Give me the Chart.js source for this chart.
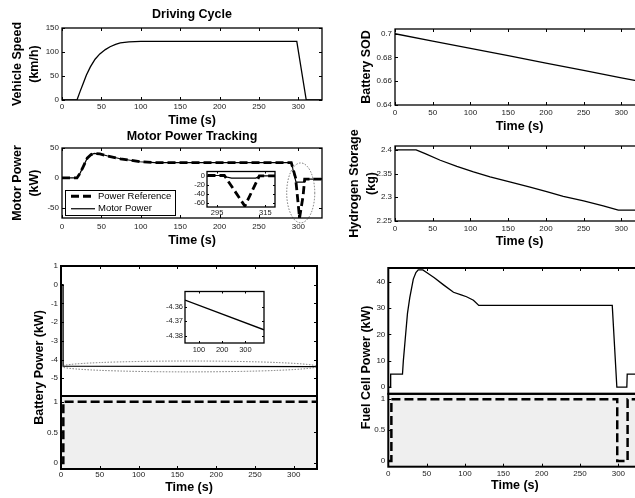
<!DOCTYPE html>
<html>
<head>
<meta charset="utf-8">
<script src="https://cdn.jsdelivr.net/npm/chart.js@4.4.1/dist/chart.umd.min.js"></script>
<style>
  html, body { margin: 0; padding: 0; background: #fff; }
  body { position: relative; width: 635px; height: 498px; overflow: hidden; }
  canvas { position: absolute; }
</style>
</head>
<body>
<canvas id="speedChart" width="330" height="128" style="left:0;top:0"></canvas>
<canvas id="sodChart" width="320" height="134" style="left:330px;top:0"></canvas>
<canvas id="motorChart" width="330" height="126" style="left:0;top:122px"></canvas>
<canvas id="h2Chart" width="320" height="129" style="left:330px;top:120px"></canvas>
<canvas id="batChart" width="330" height="240" style="left:0;top:255px"></canvas>
<canvas id="fcChart" width="320" height="238" style="left:330px;top:255px"></canvas>
<canvas id="motorInset" width="86" height="55" style="left:191px;top:165px"></canvas>
<canvas id="batInset" width="102" height="72" style="left:164px;top:285px"></canvas>
<script>
// ---- data ----
// Driving cycle
const speedTime = [0, 19, 23, 27, 31, 36, 42, 48, 55, 61, 68, 74, 85, 100, 298, 310, 330];
const speedValue = [0, 0, 18, 35, 52, 69, 85, 96, 105, 111, 116, 119, 121, 122, 122, 0, 0];

// Battery SOD
const sodTime = [0, 50, 100, 150, 200, 250, 300, 330];
const sodValue = [0.7, 0.6938, 0.6876, 0.6815, 0.6753, 0.6691, 0.6629, 0.6592];

// Motor power tracking
const motorRefTime = [0, 19, 23, 27, 32, 37, 41, 48, 57, 74, 99, 118, 291, 296.5, 301.5, 306, 308, 330];
const motorRefValue = [0, 0, 8, 19, 33, 39, 41, 40, 37, 32, 27, 25.5, 25.5, 0, -67, -30, -2, -2];
const motorTime = [0, 19, 23, 27, 32, 37, 41, 48, 57, 74, 99, 118, 291, 297, 308, 309, 330];
const motorValue = [0, 0, 8, 19, 33, 39, 41, 40, 37, 32, 27, 25.5, 25.5, -7, -7, -2, -2];

// Motor power zoom (inset)
const insetRefTime = [291, 298, 306.5, 312.5, 319];
const insetRefValue = [1, 1, -68, 0, 0];
const insetMotorTime = [291, 296, 301, 311, 313, 319];
const insetMotorValue = [1, 1, -5, -5, 0, 0];

// Hydrogen storage
const h2Time = [0, 28, 40, 60, 82, 104, 126, 152, 179, 201, 223, 250, 276, 296, 330];
const h2Value = [2.4, 2.4, 2.392, 2.378, 2.365, 2.3535, 2.343, 2.3326, 2.3215, 2.3118, 2.302, 2.2923, 2.282, 2.273, 2.273];

// Battery power and on/off state
const batTime = [0, 2.6, 2.7, 330];
const batPower = [0, 0, -4.356, -4.376];
const batInsetTime = [40, 380];
const batInsetPower = [-4.3555, -4.3757];
const batStateTime = [0, 3, 330];
const batState = [0, 1, 1];

// Fuel cell power and on/off state
const fcTime = [0, 3, 3.1, 18.5, 19.6, 22, 25, 28, 32.6, 36, 39, 45, 50, 60, 72, 85, 95, 102, 111, 118, 292, 298, 311, 311.5, 330];
const fcPower = [0, 0, 5, 5, 10, 18, 28, 34, 41, 43.5, 44.5, 44.5, 43.5, 41.5, 38.8, 36, 35, 34.3, 33, 31, 31, 0, 0, 5, 5];
const fcStateTime = [0, 4, 298.5, 312, 330];
const fcState = [0, 1, 0, 1, 1];

// tick labels
const timeTicks = [0, 50, 100, 150, 200, 250, 300];
const speedTicks = [0, 50, 100, 150];
const sodTicks = [0.64, 0.66, 0.68, 0.7];
const motorTicks = [-50, 0, 50];
const motorInsetXTicks = [295, 315];
const motorInsetYTicks = [-60, -40, -20, 0];
const h2Ticks = [2.25, 2.3, 2.35, 2.4];
const batPowerTicks = [-5, -4, -3, -2, -1, 0, 1];
const stateTicks = [0, 0.5, 1];
const batInsetXTicks = [100, 200, 300];
const batInsetYTicks = [-4.38, -4.37, -4.36];
const fcPowerTicks = [0, 10, 20, 30, 40];

// ---- helpers ----
Chart.defaults.font.family = '"Liberation Sans", Arial, sans-serif';
Chart.defaults.color = '#222';
Chart.defaults.animation = false;

const pts = (xs, ys) => xs.map((x, i) => ({ x: x, y: ys[i] }));

function linAxis(o) {
  const ax = {
    type: 'linear',
    position: o.position,
    min: o.min,
    max: o.max,
    weight: o.weight || 0,
    grid: { display: false, drawTicks: false },
    border: { display: false },
    afterFit: function (s) {
      if (o.position === 'bottom') s.height = o.size; else s.width = o.size;
    },
    ticks: {
      display: !!o.ticks,
      padding: o.pad != null ? o.pad : 3,
      font: { size: o.font || 8 },
      color: '#222',
      autoSkip: false,
      maxRotation: 0,
      callback: (v) => String(Math.round(v * 1e6) / 1e6)
    },
    title: { display: false }
  };
  if (o.ticks) ax.afterBuildTicks = (s) => { s.ticks = o.ticks.map((v) => ({ value: v })); };
  if (o.stack) { ax.stack = o.stack; ax.stackWeight = o.stackWeight; }
  if (o.title) {
    ax.title = {
      display: true,
      text: o.title,
      color: '#000',
      font: { size: 12.5, weight: 'bold', lineHeight: o.lh || 1.2 },
      padding: { top: o.tpad || 0, bottom: 0 }
    };
  }
  return ax;
}

function line(data, extra) {
  return Object.assign({
    data: data,
    borderColor: '#000',
    borderWidth: 1.3,
    pointRadius: 0,
    tension: 0,
    fill: false
  }, extra || {});
}

// box round the axes with inside tick marks, like the original figure
const framePlugin = {
  id: 'frame',
  beforeDraw(chart, args, o) {
    const ctx = chart.ctx, a = chart.chartArea;
    ctx.save();
    if (o.background) {
      ctx.fillStyle = o.background;
      ctx.fillRect(a.left, a.top, a.right - a.left, a.bottom - a.top);
    }
    (o.shade || []).forEach((id) => {
      const s = chart.scales[id];
      ctx.fillStyle = '#efefef';
      ctx.fillRect(a.left, s.top, a.right - a.left, s.bottom - s.top);
    });
    ctx.restore();
  },
  afterDraw(chart, args, o) {
    const ctx = chart.ctx, a = chart.chartArea, scales = chart.scales;
    const ids = o.yIds || ['y'];
    const tl = o.tick || 3;
    ctx.save();
    ctx.strokeStyle = '#000';
    ctx.lineWidth = 1;
    ctx.beginPath();
    ids.forEach((id) => {
      const s = scales[id];
      s.ticks.forEach((t) => {
        const py = Math.round(s.getPixelForValue(t.value)) + 0.5;
        ctx.moveTo(a.left, py); ctx.lineTo(a.left + tl, py);
        ctx.moveTo(a.right, py); ctx.lineTo(a.right - tl, py);
      });
    });
    const top = scales[ids[0]].top, bottom = scales[ids[ids.length - 1]].bottom;
    scales.x.ticks.forEach((t) => {
      const px = Math.round(scales.x.getPixelForValue(t.value)) + 0.5;
      ctx.moveTo(px, top); ctx.lineTo(px, top + tl);
      ctx.moveTo(px, bottom); ctx.lineTo(px, bottom - tl);
    });
    ctx.stroke();
    ctx.lineWidth = o.lineWidth || 1.3;
    ids.forEach((id) => {
      const s = scales[id];
      ctx.strokeRect(a.left, s.top, a.right - a.left, s.bottom - s.top);
    });
    ctx.restore();
  }
};

// dotted ellipse marking the zoomed region
const ellipsePlugin = {
  id: 'ellipse',
  afterDatasetsDraw(chart, args, o) {
    if (o.cx == null) return;
    const ctx = chart.ctx, xs = chart.scales.x, ys = chart.scales[o.yId || 'y'];
    const cx = xs.getPixelForValue(o.cx), cy = ys.getPixelForValue(o.cy);
    const rx = Math.abs(xs.getPixelForValue(o.cx + o.rx) - cx);
    const ry = Math.abs(ys.getPixelForValue(o.cy + o.ry) - cy);
    ctx.save();
    ctx.setLineDash([1.5, 1.5]);
    ctx.strokeStyle = '#555';
    ctx.lineWidth = 0.8;
    ctx.beginPath();
    ctx.ellipse(cx, cy, rx, ry, 0, 0, 2 * Math.PI);
    ctx.stroke();
    ctx.restore();
  }
};

// legend box inside the plot area
const insideLegend = {
  id: 'insideLegend',
  afterDraw(chart, args, o) {
    if (!o.display) return;
    const ctx = chart.ctx, a = chart.chartArea;
    const x = a.left + o.x, y = a.bottom - o.y - o.h;
    const n = chart.data.datasets.length;
    ctx.save();
    ctx.fillStyle = '#fff';
    ctx.fillRect(x, y, o.w, o.h);
    ctx.strokeStyle = '#000';
    ctx.lineWidth = 1;
    ctx.strokeRect(x + 0.5, y + 0.5, o.w, o.h);
    ctx.font = '9.5px "Liberation Sans", Arial, sans-serif';
    ctx.textBaseline = 'middle';
    chart.data.datasets.forEach((ds, i) => {
      const ly = y + o.h * (i + 0.5) / n;
      ctx.beginPath();
      ctx.setLineDash(ds.borderDash || []);
      ctx.lineWidth = ds.borderWidth;
      ctx.strokeStyle = ds.borderColor;
      ctx.moveTo(x + 6, ly); ctx.lineTo(x + 30, ly);
      ctx.stroke();
      ctx.setLineDash([]);
      ctx.fillStyle = '#000';
      ctx.fillText(ds.label, x + 33, ly);
    });
    ctx.restore();
  }
};

function baseOptions(extra) {
  return Object.assign({
    responsive: false,
    devicePixelRatio: 1,
    animation: false,
    events: []
  }, extra);
}
const noLegend = { legend: { display: false }, tooltip: { enabled: false } };

// ---- Driving Cycle ----
new Chart(document.getElementById('speedChart'), {
  type: 'line',
  data: { datasets: [line(pts(speedTime, speedValue))] },
  options: baseOptions({
    layout: { padding: { left: 0, right: 8, top: 0, bottom: 0 } },
    plugins: Object.assign({
      title: { display: true, fullSize: false, text: 'Driving Cycle', color: '#000', font: { size: 12.5, weight: 'bold' }, padding: { top: 7, bottom: 6 } },
      frame: {}
    }, noLegend),
    scales: {
      x: linAxis({ position: 'bottom', min: 0, max: 330, ticks: timeTicks, size: 28, pad: 2, title: 'Time (s)' }),
      y: linAxis({ position: 'left', min: 0, max: 150, ticks: speedTicks, size: 62, title: ['Vehicle Speed', '(km/h)'], lh: 1.35, tpad: 9.6 })
    }
  }),
  plugins: [framePlugin]
});

// ---- Battery SOD ----
new Chart(document.getElementById('sodChart'), {
  type: 'line',
  data: { datasets: [line(pts(sodTime, sodValue))] },
  options: baseOptions({
    layout: { padding: { left: 0, right: 6, top: 29, bottom: 0 } },
    plugins: Object.assign({ frame: {} }, noLegend),
    scales: {
      x: linAxis({ position: 'bottom', min: 0, max: 330, ticks: timeTicks, size: 29, pad: 3, title: 'Time (s)' }),
      y: linAxis({ position: 'left', min: 0.64, max: 0.704, ticks: sodTicks, size: 65, title: 'Battery SOD', tpad: 29.2 })
    }
  }),
  plugins: [framePlugin]
});

// ---- Motor Power Tracking ----
new Chart(document.getElementById('motorChart'), {
  type: 'line',
  data: {
    datasets: [
      line(pts(motorRefTime, motorRefValue), { label: 'Power Reference', borderWidth: 2.8, borderDash: [8, 4] }),
      line(pts(motorTime, motorValue), { label: 'Motor Power', borderWidth: 1.2 })
    ]
  },
  options: baseOptions({
    layout: { padding: { left: 0, right: 8, top: 0, bottom: 0 } },
    plugins: Object.assign({
      title: { display: true, fullSize: false, text: 'Motor Power Tracking', color: '#000', font: { size: 12.5, weight: 'bold' }, padding: { top: 7, bottom: 4 } },
      frame: {},
      ellipse: { cx: 303, cy: -25, rx: 17.8, ry: 50 },
      insideLegend: { display: true, x: 3, y: 3, w: 110, h: 25 }
    }, noLegend),
    scales: {
      x: linAxis({ position: 'bottom', min: 0, max: 330, ticks: timeTicks, size: 30, pad: 4, title: 'Time (s)' }),
      y: linAxis({ position: 'left', min: -67, max: 50, ticks: motorTicks, size: 62, title: ['Motor Power', '(kW)'], lh: 1.35, tpad: 9.6 })
    }
  }),
  plugins: [framePlugin, ellipsePlugin, insideLegend]
});

// ---- Hydrogen Storage ----
new Chart(document.getElementById('h2Chart'), {
  type: 'line',
  data: { datasets: [line(pts(h2Time, h2Value))] },
  options: baseOptions({
    layout: { padding: { left: 0, right: 6, top: 26, bottom: 0 } },
    plugins: Object.assign({ frame: {} }, noLegend),
    scales: {
      x: linAxis({ position: 'bottom', min: 0, max: 330, ticks: timeTicks, size: 28, pad: 3, title: 'Time (s)' }),
      y: linAxis({ position: 'left', min: 2.25, max: 2.408, ticks: h2Ticks, size: 65, title: ['Hydrogen Storage', '(kg)'], lh: 1.35, tpad: 16.6 })
    }
  }),
  plugins: [framePlugin]
});

// ---- Battery Power (power on top, on/off state below) ----
new Chart(document.getElementById('batChart'), {
  type: 'line',
  data: {
    datasets: [
      line(pts(batTime, batPower), { yAxisID: 'y' }),
      line(pts(batStateTime, batState), { yAxisID: 'y2', borderWidth: 2.5, borderDash: [9, 4], stepped: 'before' })
    ]
  },
  options: baseOptions({
    layout: { padding: { left: 0, right: 13, top: 11, bottom: 0 } },
    plugins: Object.assign({
      frame: { yIds: ['y', 'y2'], shade: ['y2'], lineWidth: 2 },
      ellipse: { cx: 165, cy: -4.37, rx: 164.5, ry: 0.29 }
    }, noLegend),
    scales: {
      x: linAxis({ position: 'bottom', min: 0, max: 330, ticks: timeTicks, size: 26, pad: 1, title: 'Time (s)' }),
      yTitle: linAxis({ position: 'left', min: 0, max: 1, size: 43, weight: 10, title: 'Battery Power (kW)', tpad: 32.5 }),
      y: linAxis({ position: 'left', min: -5.95, max: 1, ticks: batPowerTicks, size: 18, weight: 2, stack: 'bat', stackWeight: 130 }),
      y2: linAxis({ position: 'left', min: -0.097, max: 1.0925, ticks: stateTicks, size: 18, weight: 1, stack: 'bat', stackWeight: 73 })
    }
  }),
  plugins: [framePlugin, ellipsePlugin]
});

// ---- Fuel Cell Power (power on top, on/off state below) ----
new Chart(document.getElementById('fcChart'), {
  type: 'line',
  data: {
    datasets: [
      line(pts(fcTime, fcPower), { yAxisID: 'y' }),
      line(pts(fcStateTime, fcState), { yAxisID: 'y2', borderWidth: 2.5, borderDash: [9, 4], stepped: 'before' })
    ]
  },
  options: baseOptions({
    layout: { padding: { left: 0, right: 8.6, top: 13, bottom: 0 } },
    plugins: Object.assign({
      frame: { yIds: ['y', 'y2'], shade: ['y2'], lineWidth: 2 }
    }, noLegend),
    scales: {
      x: linAxis({ position: 'bottom', min: 0, max: 330, ticks: timeTicks, size: 26.3, pad: 2, title: 'Time (s)' }),
      yTitle: linAxis({ position: 'left', min: 0, max: 1, size: 40, weight: 10, title: 'Fuel Cell Power (kW)', tpad: 29.2 }),
      y: linAxis({ position: 'left', min: -2.5, max: 45.2, ticks: fcPowerTicks, size: 18.3, weight: 2, stack: 'fc', stackWeight: 126 }),
      y2: linAxis({ position: 'left', min: -0.092, max: 1.086, ticks: stateTicks, size: 18.3, weight: 1, stack: 'fc', stackWeight: 73 })
    }
  }),
  plugins: [framePlugin]
});

// ---- inset: motor power zoom ----
new Chart(document.getElementById('motorInset'), {
  type: 'line',
  data: {
    datasets: [
      line(pts(insetRefTime, insetRefValue), { borderWidth: 2.8, borderDash: [8, 4] }),
      line(pts(insetMotorTime, insetMotorValue), { borderWidth: 1.2 })
    ]
  },
  options: baseOptions({
    layout: { padding: { left: 0, right: 2, top: 3, bottom: 0 } },
    plugins: Object.assign({ frame: { background: '#fff', tick: 2 } }, noLegend),
    scales: {
      x: linAxis({ position: 'bottom', min: 290.8, max: 319, ticks: motorInsetXTicks, size: 13, pad: 1, font: 7.5 }),
      y: linAxis({ position: 'left', min: -70, max: 10, ticks: motorInsetYTicks, size: 16, pad: 2, font: 7.5 })
    }
  }),
  plugins: [framePlugin]
});

// ---- inset: battery power zoom ----
new Chart(document.getElementById('batInset'), {
  type: 'line',
  data: { datasets: [line(pts(batInsetTime, batInsetPower))] },
  options: baseOptions({
    layout: { padding: { left: 0, right: 2, top: 3, bottom: 0 } },
    plugins: Object.assign({ frame: { background: '#fff', tick: 2 } }, noLegend),
    scales: {
      x: linAxis({ position: 'bottom', min: 40, max: 380, ticks: batInsetXTicks, size: 14, pad: 2, font: 7.5 }),
      y: linAxis({ position: 'left', min: -4.3847, max: -4.3496, ticks: batInsetYTicks, size: 21, pad: 2, font: 7.5 })
    }
  }),
  plugins: [framePlugin]
});
</script>
</body>
</html>
